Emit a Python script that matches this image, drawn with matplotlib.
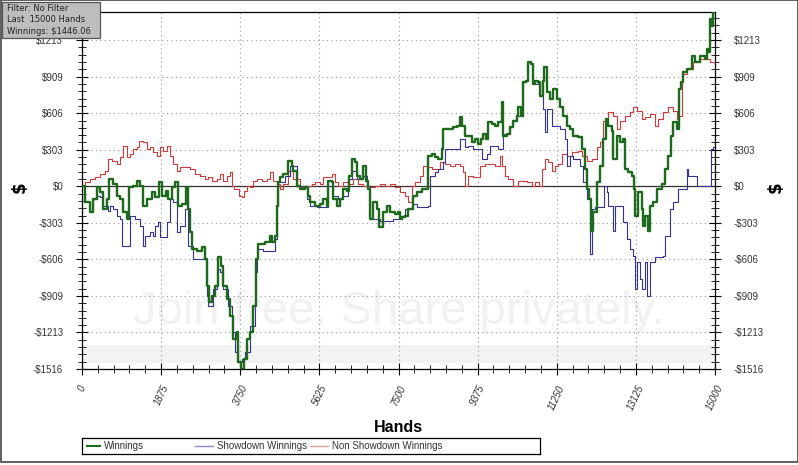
import numpy as np
import matplotlib
matplotlib.use("Agg")
import matplotlib.pyplot as plt
from matplotlib.lines import Line2D
from matplotlib.patches import Rectangle

# values (hands, dollars)
win_hands = [0, 71, 190, 261, 356, 427, 498, 593, 640, 735, 830, 901, 972, 1067, 1114, 1209,
             1304, 1375, 1446, 1541, 1659, 1730, 1825, 1896, 1991, 2038, 2133, 2204, 2275,
             2370, 2465, 2512, 2560, 2607, 2726, 2844, 2915, 2963, 3010, 3081, 3152, 3223,
             3294, 3342, 3437, 3508, 3579, 3674, 3697, 3768, 3839, 3911, 3982, 4053, 4124,
             4171, 4337, 4456, 4503, 4574, 4622, 4645, 4693, 4764, 4882, 4977, 5001, 5096,
             5167, 5285, 5356, 5404, 5522, 5641, 5712, 5807, 5830, 5925, 5949, 6044, 6115,
             6186, 6281, 6328, 6399, 6470, 6518, 6589, 6660, 6731, 6778, 6826, 6897, 6992,
             7039, 7134, 7229, 7300, 7418, 7489, 7537, 7584, 7655, 7726, 7845, 7940, 8058,
             8177, 8200, 8295, 8366, 8437, 8532, 8556, 8674, 8793, 8888, 8959, 9006, 9077,
             9148, 9243, 9314, 9385, 9456, 9504, 9575, 9622, 9717, 9788, 9859, 9954, 9978,
             10073, 10144, 10215, 10310, 10333, 10404, 10452, 10523, 10570, 10641, 10689,
             10736, 10807, 10855, 10926, 10949, 11020, 11092, 11163, 11258, 11329, 11400,
             11494, 11566, 11637, 11755, 11850, 11921, 11969, 12016, 12063, 12111, 12206,
             12277, 12348, 12419, 12466, 12561, 12585, 12680, 12751, 12822, 12869, 12940,
             13035, 13082, 13106, 13177, 13272, 13296, 13343, 13414, 13462, 13533, 13628,
             13746, 13817, 13888, 13959, 14007, 14102, 14149, 14196, 14244, 14339, 14457,
             14528, 14647, 14765, 14813, 14836, 14884, 14931, 14955, 15000]
winnings = [0, -133, -216, -108, -8, -50, -191, -108, 58, 17, -83, -108, -216, -274, -8, 0,
            42, 0, -166, -108, -50, -91, 33, -83, -42, -108, -8, 33, -166,
            -149, -8, -191, -382, -523, -540, -507, -606, -831, -963, -914, -831, -590,
            -664, -831, -938, -1080, -1271, -1213, -1462, -1516, -1437, -1271, -1213, -997, -606,
            -482, -465, -415, -465, -415, -166, 33, 75, 100, 208, 166, 125, 0,
            -25, -8, -83, -133, -166, -149, -108, -166, 42, 33, -108, -166, -108,
            -25, -42, 83, 224, 199, 83, 58, 166, 42, -25, -274, -133, -191,
            -341, -216, -166, -216, -233, -216, -274, -257, -249, -191, -83, -50, -25,
            -25, 249, 266, 241, 224, 307, 473, 473, 490, 498, 573, 498, 415,
            415, 365, 390, 349, 390, 432, 390, 532, 515, 498, 532, 698, 415,
            432, 490, 540, 581, 656, 581, 864, 872, 1030, 1013, 847,
            872, 864, 747, 872, 988, 781, 723, 806, 723, 656, 581,
            498, 473, 415, 407, 307, 141, -25, -108, -374, -216, 33,
            166, 390, 556, 498, 457, 224, 415, 365, 390, 141, 116,
            83, -25, -249, -50, -191, -332, -249, -374, -166, -133, -25,
            17, 141, 249, 415, 532, 473, 806, 864, 947, 972, 1080,
            1030, 1080, 1055, 1138, 1113, 1387, 1329, 1445, 1446.06]

sd_hands = [0, 71, 190, 261, 356, 427, 498, 616, 664, 735, 830, 901, 948, 1114, 1138, 1256,
            1375, 1446, 1493, 1612, 1683, 1730, 1801, 1849, 1967, 2015, 2086, 2157, 2252,
            2323, 2441, 2512, 2560, 2631, 2844, 2963, 2986, 3081, 3105, 3200, 3271, 3342,
            3460, 3555, 3626, 3697, 3792, 3863, 3982, 4100, 4148, 4290, 4503, 4574, 4622,
            4645, 4811, 4930, 5096, 5333, 5404, 5570, 5807, 5830, 5949, 6067, 6186, 6304,
            6399, 6518, 6660, 6755, 6826, 7063, 7371, 7537, 7655, 7845, 7940, 8200, 8248,
            8366, 8437, 8556, 8603, 8911, 8959, 9030, 9077, 9148, 9267, 9433, 9480, 9599,
            9670, 9788, 9859, 9954, 9978, 10073, 10144, 10215, 10310, 10404, 10452, 10523,
            10570, 10641, 10689, 10807, 10855, 10926, 10973, 11020, 11139, 11329, 11447,
            11494, 11566, 11637, 11803, 11874, 11969, 12040, 12087, 12158, 12348, 12371,
            12443, 12466, 12561, 12585, 12632, 12751, 12822, 12917, 12988, 13059, 13106,
            13154, 13225, 13272, 13343, 13391, 13462, 13580, 13770, 13817, 13888, 13936,
            14007, 14125, 14339, 14362, 14481, 14576, 14884, 14907, 14955, 15000]
showdown = [0, -133, -216, -108, -83, -91, -166, -208, -166, -191, -249, -274, -498, -498, -249, -274,
            -332, -498, -415, -382, -415, -332, -299, -424, -424, -299, -108, -133, -382,
            -332, -191, -498, -498, -606, -606, -914, -997, -997, -855, -689, -714, -855,
            -997, -1213, -1379, -1462, -1437, -1379, -1163, -714, -523, -540, -540, -440, -166,
            33, 83, 166, 0, -108, -166, -174, -174, 0, -83, -108, -83, 58,
            125, 58, 83, 0, -274, -291, -274, -249, -191, -149, -174, -166, 83,
            116, 141, 199, 307, 307, 390, 390, 324, 332, 307, 307, 224, 266,
            332, 332, 307, 307, 432, 432, 490, 540, 581, 581, 864, 872,
            1030, 1013, 847, 864, 747, 639, 448, 639, 498, 473, 390,
            166, 249, 224, 166, 33, -108, -565, -191, -174, -174, 0,
            -50, -166, -166, -374, -166, -166, -299, -440, -523, -581, -855,
            -631, -772, -855, -631, -914, -631, -590, -581, -415, -415, -191,
            -133, -25, 141, 83, 83, 0, 0, 307, 324, 432]

nsd_hands = [0, 71, 190, 308, 427, 545, 616, 711, 830, 901, 972, 1067, 1138, 1209, 1304, 1351,
             1446, 1541, 1612, 1683, 1778, 1849, 1920, 2015, 2086, 2157, 2252, 2323, 2441,
             2560, 2678, 2797, 2915, 2986, 3081, 3200, 3271, 3342, 3437, 3508, 3555, 3602,
             3674, 3721, 3792, 3839, 3911, 3982, 4053, 4148, 4266, 4385, 4456, 4527, 4622,
             4693, 4764, 4882, 5001, 5048, 5167, 5333, 5451, 5522, 5641, 5712, 5807, 5925,
             5996, 6067, 6186, 6304, 6423, 6541, 6660, 6826, 6944, 7063, 7181, 7300, 7418,
             7537, 7655, 7726, 7821, 7892, 8011, 8082, 8177, 8295, 8414, 8485, 8603, 8722,
             8840, 8959, 9030, 9077, 9148, 9267, 9385, 9433, 9551, 9670, 9788, 9907, 9954,
             10025, 10096, 10215, 10333, 10452, 10547, 10665, 10736, 10831, 10902, 10973,
             11044, 11139, 11210, 11281, 11376, 11494, 11613, 11755, 11850, 11969, 12087,
             12206, 12277, 12348, 12466, 12585, 12680, 12751, 12869, 12988, 13059, 13154,
             13272, 13343, 13462, 13580, 13651, 13770, 13888, 14007, 14102, 14149, 14220,
             14339, 14481, 14647, 14884, 15000]
non_showdown = [0, 33, 58, 75, 100, 125, 224, 208, 183, 241, 332, 241, 266, 307, 324, 374,
                365, 307, 324, 282, 249, 324, 291, 332, 249, 183, 125, 158, 158,
                141, 100, 83, 58, 75, 42, 58, 100, 42, 83, 116, 0, -25,
                -25, -83, -91, -42, 0, -8, 42, 58, 42, 58, 116, 42, 17,
                -25, 17, 125, 58, 58, -8, 0, 17, 33, 17, 75, 75, 100,
                33, 0, 33, 17, 58, 17, 0, -8, 0, 17, 0, 17, -8,
                -50, -83, -133, 0, 33, 83, 166, 158, 141, 141, 199, 183, 166,
                183, 166, 116, 0, 83, 75, 75, 166, 183, 183, 166, 249, 166,
                83, 58, 0, 42, 42, 33, 0, 33, 0, 141, 224,
                199, 125, 166, 183, 266, 249, 282, 291, 249, 208, 224,
                324, 365, 540, 615, 581, 473, 540, 581, 615, 656, 623,
                556, 573, 598, 498, 556, 615, 656, 623, 556, 581, 930,
                972, 1030, 1055, 1030, 1013]

y_min, y_max = -1516, 1446.06
y_ticks = [-1516, -1213, -909, -606, -303, 0, 303, 606, 909, 1213]
y_labels = ["-$1516", "-$1213", "-$909", "-$606", "-$303", "$0", "$303", "$606", "$909", "$1213"]
x_ticks = [0, 1875, 3750, 5625, 7500, 9375, 11250, 13125, 15000]

col_win = "#1b6b1b"
col_sd = "#32329a"
col_nsd = "#d23a3a"

fig = plt.figure(figsize=(7.98, 4.65), dpi=100)
ax = fig.add_axes([82 / 798, 1 - 369 / 465, 633 / 798, 357 / 465])

# watermark and pale band
ax.axhspan(-1470, -1320, color="#f3f3f3", zorder=0, lw=0)
ax.text(0.5, 0.16, "Join free. Share privately.", transform=ax.transAxes, ha="center",
        va="center", fontsize=34, color="#f1f1f1", family="Liberation Sans", zorder=0)

ax.grid(True, which="major", linestyle=(0, (1, 3)), color="#9a9a9a", lw=0.8)
ax.set_axisbelow(True)
ax.axhline(0, color="#333333", lw=0.9, zorder=1)

ax.step(nsd_hands, non_showdown, where="post", color=col_nsd, lw=0.8, zorder=2)
ax.step(sd_hands, showdown, where="post", color=col_sd, lw=0.8, zorder=3)
ax.step(win_hands, winnings, where="post", color=col_win, lw=1.7, zorder=4)

ax.set_xlim(0, 15000)
ax.set_ylim(y_min, y_max)
ax.set_xticks(x_ticks)
ax.set_xticks(np.arange(0, 15001, 375), minor=True)
ax.set_xticklabels([str(t) for t in x_ticks], rotation=65, fontsize=7, color="#333333",
                   family="Liberation Sans", style="italic")
ax.set_yticks(y_ticks)
ax.set_yticks(np.arange(-1516, 1446, 303.2 / 5), minor=True)
ax.set_yticklabels(y_labels, fontsize=7, color="#333333", family="Liberation Sans")
ax.tick_params(axis="y", which="both", left=True, right=True, labelleft=True, labelright=True,
               direction="inout")
ax.tick_params(axis="y", which="major", length=9, pad=9)
ax.tick_params(axis="y", which="minor", length=6)
ax.tick_params(axis="x", which="major", direction="inout", length=9, pad=6)
ax.tick_params(axis="x", which="minor", direction="inout", length=6)
for s in ax.spines.values():
    s.set_linewidth(0.9)

ax.set_xlabel("Hands", fontsize=11.5, fontweight="bold", family="Liberation Sans", labelpad=6)
fig.text(20 / 798, 1 - 187 / 465, "$", rotation=90, fontsize=12, fontweight="bold",
         ha="center", va="center")
fig.text(776 / 798, 1 - 187 / 465, "$", rotation=90, fontsize=12, fontweight="bold",
         ha="center", va="center")

# legend box
lax = fig.add_axes([82 / 798, 1 - 454 / 465, 458 / 798, 16 / 465])
lax.set_xlim(0, 458)
lax.set_ylim(0, 16)
lax.set_xticks([])
lax.set_yticks([])
for s in lax.spines.values():
    s.set_linewidth(0.9)
entries = [(5, 18, "Winnings", col_win, 1.5), (113, 131, "Showdown Winnings", "#8a8ac8", 1.0),
           (228, 246, "Non Showdown Winnings", "#e09a9a", 1.0)]
for x0, x1, name, c, w in entries:
    lax.add_line(Line2D([x0, x1], [8, 8], color=c, lw=w))
    lax.text(x1 + 4, 8, name, va="center", fontsize=7, color="#333333", family="Liberation Sans")

# info box in the corner
fig.patches.append(Rectangle((2 / 798, 1 - 38 / 465), 98 / 798, 36 / 465, transform=fig.transFigure,
                             facecolor="#bdbdbd", edgecolor="#555555", lw=0.9))
fig.text(7 / 798, 1 - 20 / 465, "Filter: No Filter\nLast  15000 Hands\nWinnings: $1446.06",
         fontsize=6, va="center", ha="left", color="#222222", linespacing=1.3)

# outer frame
fig.patches.append(Rectangle((0.5 / 798, 3 / 465), 797 / 798, 461.5 / 465, transform=fig.transFigure,
                             facecolor="none", edgecolor="#444444", lw=1.2))

fig.savefig("out.png", dpi=100)
